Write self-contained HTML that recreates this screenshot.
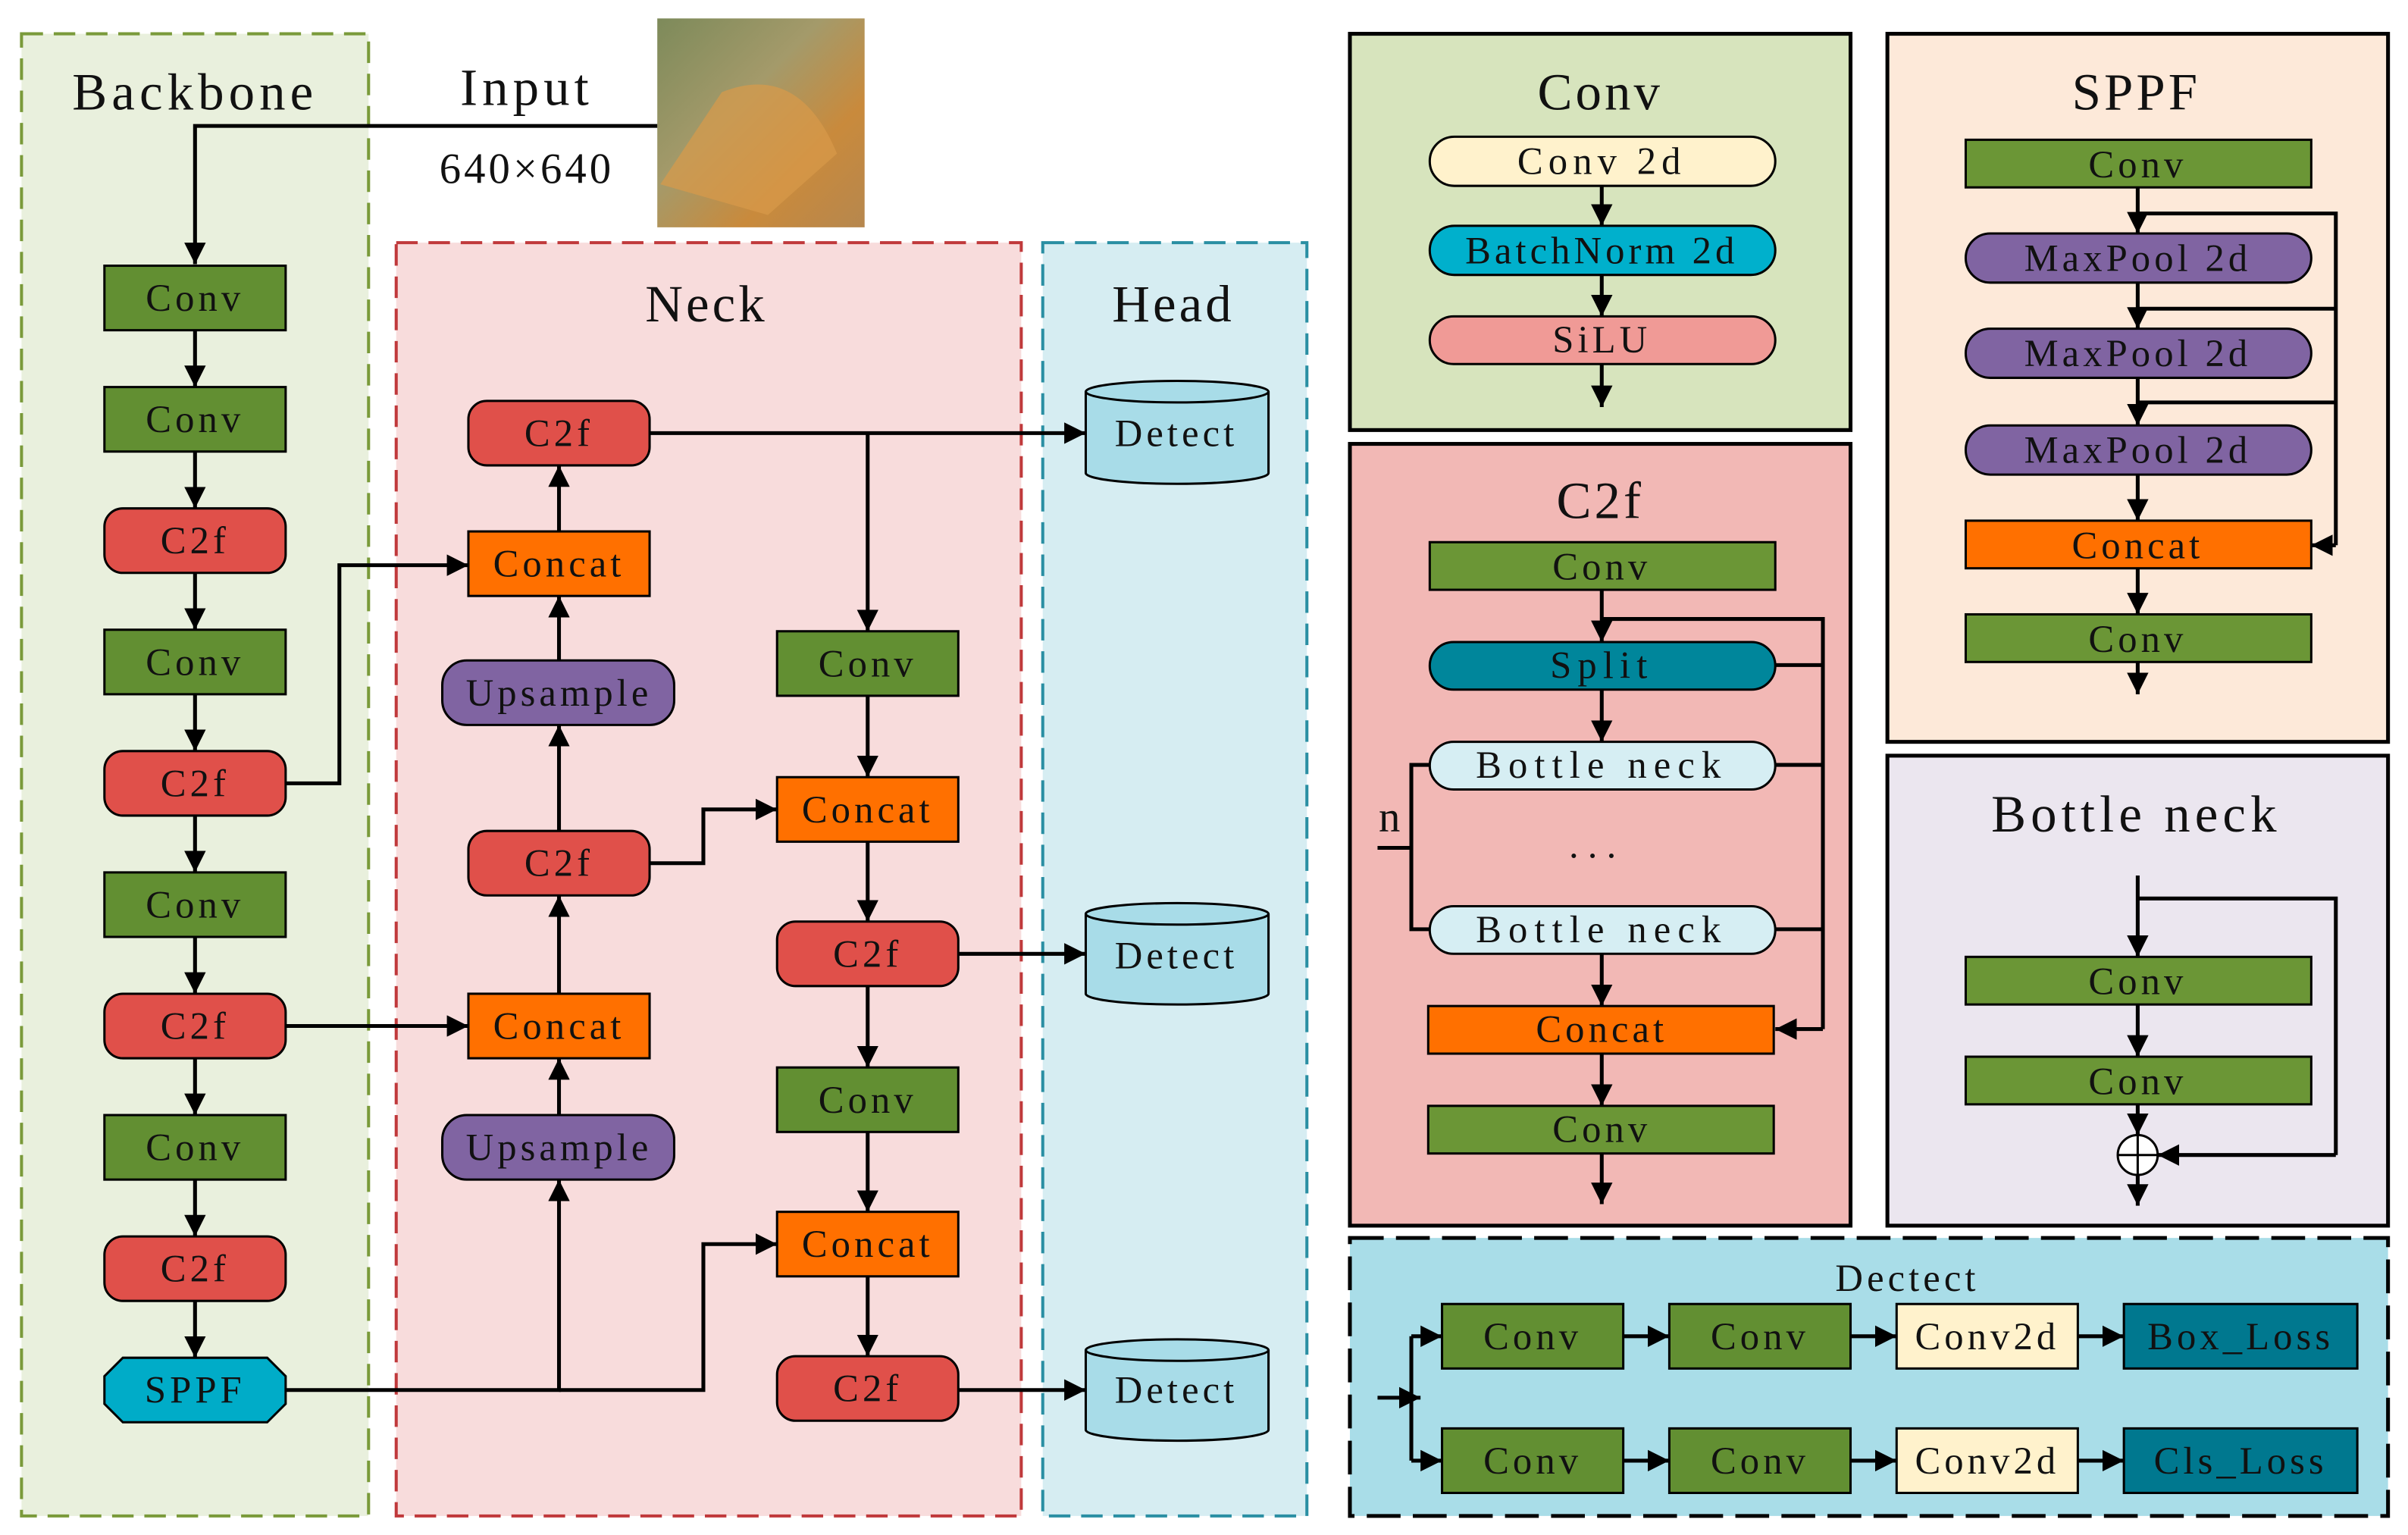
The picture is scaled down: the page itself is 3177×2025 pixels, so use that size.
<!DOCTYPE html>
<html><head><meta charset="utf-8"><style>
html,body{margin:0;padding:0;background:#fff}
svg{display:block}
text{font-family:"Liberation Serif","Noto Serif CJK SC",serif;text-anchor:middle;dominant-baseline:central;fill:#111}
.t{font-size:25px;letter-spacing:2.5px}
.h{font-size:34px;letter-spacing:2px}
</style></head><body>
<svg width="3177" height="2025" viewBox="0 0 1568 999.4" preserveAspectRatio="none" xmlns="http://www.w3.org/2000/svg">
<defs>
<marker id="b" viewBox="0 0 10 10" refX="10" refY="5" markerWidth="14" markerHeight="14" markerUnits="userSpaceOnUse" orient="auto"><path d="M0,0L10,5L0,10z" fill="#000"/></marker>
<linearGradient id="img" x1="0" y1="0" x2="1" y2="1"><stop offset="0" stop-color="#7d8a5a"/><stop offset="0.4" stop-color="#a49a6a"/><stop offset="0.7" stop-color="#c98a3c"/><stop offset="1" stop-color="#b6874e"/></linearGradient>
</defs>
<rect width="1568" height="1000" fill="#fff"/>
<rect x="14" y="22" width="226" height="965" fill="#e9f0dd" stroke="#7a9a3a" stroke-width="2" stroke-dasharray="14,7"/>
<rect x="258" y="158" width="407" height="829" fill="#f8dcdc" stroke="#c0393b" stroke-width="2" stroke-dasharray="14,7"/>
<rect x="679" y="158" width="172" height="829" fill="#d6edf2" stroke="#2a8fa3" stroke-width="2" stroke-dasharray="14,7"/>
<text x="127" y="60" class="h" style="letter-spacing:3px">Backbone</text>
<text x="460" y="198" class="h">Neck</text>
<text x="764" y="198" class="h">Head</text>
<text x="343" y="57" class="h" style="letter-spacing:3px">Input</text>
<text x="343" y="110" style="font-size:28px;letter-spacing:2px">640×640</text>
<rect x="428" y="12" width="135" height="136" fill="url(#img)"/>
<path d="M470,60 Q520,40 545,100 L500,140 L430,120z" fill="#d99a4a" opacity="0.7"/>
<g stroke="#000" stroke-width="2.5" fill="none" marker-end="url(#b)">
<path d="M428,82H127V172"/>
<path d="M127,215V252"/><path d="M127,294V331"/><path d="M127,373V410"/><path d="M127,452V489"/><path d="M127,531V568"/><path d="M127,610V647"/><path d="M127,689V726"/><path d="M127,768V805"/><path d="M127,847V884"/>
<path d="M423,282H707"/><path d="M565,282V411"/>
<path d="M186,510H221V368H305"/>
<path d="M364,346V303"/><path d="M364,430V388"/><path d="M364,541V472"/><path d="M364,647V583"/><path d="M364,726V689"/>
<path d="M186,668H305"/>
<path d="M186,905H364V768"/>
<path d="M364,905H458V810H506"/>
<path d="M423,562H458V527H506"/>
<path d="M565,453V506"/><path d="M565,548V600"/><path d="M565,642V695"/><path d="M565,737V789"/><path d="M565,831V883"/>
<path d="M624,621H707"/><path d="M624,905H707"/>
</g>
<g stroke="#000" stroke-width="1.5">
<rect x="68" y="173" width="118" height="42" fill="#628f32"/>
<rect x="68" y="252" width="118" height="42" fill="#628f32"/>
<rect x="68" y="331" width="118" height="42" rx="12" fill="#e0504a"/>
<rect x="68" y="410" width="118" height="42" fill="#628f32"/>
<rect x="68" y="489" width="118" height="42" rx="12" fill="#e0504a"/>
<rect x="68" y="568" width="118" height="42" fill="#628f32"/>
<rect x="68" y="647" width="118" height="42" rx="12" fill="#e0504a"/>
<rect x="68" y="726" width="118" height="42" fill="#628f32"/>
<rect x="68" y="805" width="118" height="42" rx="12" fill="#e0504a"/>
<path d="M80,884H174L186,896V914L174,926H80L68,914V896z" fill="#00acc8"/>
<rect x="305" y="261" width="118" height="42" rx="12" fill="#e0504a"/>
<rect x="305" y="346" width="118" height="42" fill="#ff7000"/>
<rect x="288" y="430" width="151" height="42" rx="16" fill="#8064a2"/>
<rect x="305" y="541" width="118" height="42" rx="12" fill="#e0504a"/>
<rect x="305" y="647" width="118" height="42" fill="#ff7000"/>
<rect x="288" y="726" width="151" height="42" rx="16" fill="#8064a2"/>
<rect x="506" y="411" width="118" height="42" fill="#628f32"/>
<rect x="506" y="506" width="118" height="42" fill="#ff7000"/>
<rect x="506" y="600" width="118" height="42" rx="12" fill="#e0504a"/>
<rect x="506" y="695" width="118" height="42" fill="#628f32"/>
<rect x="506" y="789" width="118" height="42" fill="#ff7000"/>
<rect x="506" y="883" width="118" height="42" rx="12" fill="#e0504a"/>
</g>
<g stroke="#000" stroke-width="1.5" fill="#a8dce8">
<path d="M707,255V308A59.5,7 0 0 0 826,308V255"/><ellipse cx="766.5" cy="255" rx="59.5" ry="7"/>
<path d="M707,595V647A59.5,7 0 0 0 826,647V595"/><ellipse cx="766.5" cy="595" rx="59.5" ry="7"/>
<path d="M707,879V931A59.5,7 0 0 0 826,931V879"/><ellipse cx="766.5" cy="879" rx="59.5" ry="7"/>
</g>
<text x="127" y="194" class="t">Conv</text><text x="127" y="273" class="t">Conv</text><text x="127" y="352" class="t">C2f</text><text x="127" y="431" class="t">Conv</text><text x="127" y="510" class="t">C2f</text><text x="127" y="589" class="t">Conv</text><text x="127" y="668" class="t">C2f</text><text x="127" y="747" class="t">Conv</text><text x="127" y="826" class="t">C2f</text><text x="127" y="905" class="t">SPPF</text>
<text x="364" y="282" class="t">C2f</text><text x="364" y="367" class="t">Concat</text><text x="364" y="451" class="t">Upsample</text><text x="364" y="562" class="t">C2f</text><text x="364" y="668" class="t">Concat</text><text x="364" y="747" class="t">Upsample</text>
<text x="565" y="432" class="t">Conv</text><text x="565" y="527" class="t">Concat</text><text x="565" y="621" class="t">C2f</text><text x="565" y="716" class="t">Conv</text><text x="565" y="810" class="t">Concat</text><text x="565" y="904" class="t">C2f</text>
<text x="766" y="282" class="t">Detect</text><text x="766" y="622" class="t">Detect</text><text x="766" y="905" class="t">Detect</text>
<rect x="879" y="22" width="326" height="258" fill="#d7e4bd" stroke="#000" stroke-width="2.5"/>
<text x="1042" y="60" class="h">Conv</text>
<g stroke="#000" stroke-width="2.5" fill="none" marker-end="url(#b)">
<path d="M1043,121V147"/><path d="M1043,179V206"/><path d="M1043,237V265"/>
</g>
<g stroke="#000" stroke-width="1.5">
<rect x="931" y="89" width="225" height="32" rx="16" fill="#fff2cc"/>
<rect x="931" y="147" width="225" height="32" rx="16" fill="#00b0cc"/>
<rect x="931" y="206" width="225" height="31" rx="15.5" fill="#f09a96"/>
</g>
<text x="1043" y="105" class="t" style="letter-spacing:3.5px">Conv 2d</text><text x="1043" y="163" class="t">BatchNorm 2d</text><text x="1043" y="221" class="t">SiLU</text>
<rect x="879" y="289" width="326" height="509" fill="#f2b8b5" stroke="#000" stroke-width="2.5"/>
<text x="1042" y="326" class="h">C2f</text>
<g stroke="#000" stroke-width="2.5" fill="none">
<path d="M1043,403H1187V670"/><path d="M1156,433H1187"/><path d="M1156,498H1187"/><path d="M1156,605H1187"/>
<path d="M931,498H919V605H931"/><path d="M897,552H919"/>
<g marker-end="url(#b)"><path d="M1043,384V418"/><path d="M1043,449V483"/><path d="M1043,621V655"/><path d="M1043,686V720"/><path d="M1043,751V784"/><path d="M1187,670H1156"/></g>
</g>
<g stroke="#000" stroke-width="1.5">
<rect x="931" y="353" width="225" height="31" fill="#6b9636"/>
<rect x="931" y="418" width="225" height="31" rx="15.5" fill="#00869b"/>
<rect x="931" y="483" width="225" height="31" rx="15.5" fill="#d6eef3"/>
<rect x="931" y="590" width="225" height="31" rx="15.5" fill="#d6eef3"/>
<rect x="930" y="655" width="225" height="31" fill="#ff7000"/>
<rect x="930" y="720" width="225" height="31" fill="#6b9636"/>
</g>
<text x="1043" y="369" class="t">Conv</text><text x="1043" y="433" class="t" style="letter-spacing:4px">Split</text><text x="1043" y="498" class="t" style="letter-spacing:4.5px">Bottle neck</text><text x="1040" y="550" class="t" style="letter-spacing:6px">...</text><text x="1043" y="605" class="t" style="letter-spacing:4.5px">Bottle neck</text><text x="1043" y="670" class="t">Concat</text><text x="1043" y="735" class="t">Conv</text>
<text x="906" y="532" class="t" style="font-size:28px">n</text>
<rect x="1229" y="22" width="326" height="461" fill="#fde9d9" stroke="#000" stroke-width="2.5"/>
<text x="1391" y="60" class="h">SPPF</text>
<g stroke="#000" stroke-width="2.5" fill="none">
<path d="M1392,139H1521V355"/><path d="M1392,201H1521"/><path d="M1392,262H1521"/>
<g marker-end="url(#b)"><path d="M1392,122V152"/><path d="M1392,184V214"/><path d="M1392,246V277"/><path d="M1392,309V339"/><path d="M1392,370V400"/><path d="M1392,431V452"/><path d="M1521,355H1505"/></g>
</g>
<g stroke="#000" stroke-width="1.5">
<rect x="1280" y="91" width="225" height="31" fill="#6b9636"/>
<rect x="1280" y="152" width="225" height="32" rx="16" fill="#8064a2"/>
<rect x="1280" y="214" width="225" height="32" rx="16" fill="#8064a2"/>
<rect x="1280" y="277" width="225" height="32" rx="16" fill="#8064a2"/>
<rect x="1280" y="339" width="225" height="31" fill="#ff7000"/>
<rect x="1280" y="400" width="225" height="31" fill="#6b9636"/>
</g>
<text x="1392" y="107" class="t">Conv</text><text x="1392" y="168" class="t">MaxPool 2d</text><text x="1392" y="230" class="t">MaxPool 2d</text><text x="1392" y="293" class="t">MaxPool 2d</text><text x="1392" y="355" class="t">Concat</text><text x="1392" y="416" class="t">Conv</text>
<rect x="1229" y="492" width="326" height="306" fill="#ebe6ef" stroke="#000" stroke-width="2.5"/>
<text x="1391" y="530" class="h" style="letter-spacing:3px">Bottle neck</text>
<g stroke="#000" stroke-width="2.5" fill="none">
<path d="M1392,585H1521V752"/>
<g marker-end="url(#b)"><path d="M1392,570V623"/><path d="M1392,654V688"/><path d="M1392,719V739"/><path d="M1392,765V785"/><path d="M1521,752H1405"/></g>
</g>
<g stroke="#000" stroke-width="1.5">
<rect x="1280" y="623" width="225" height="31" fill="#6b9636"/>
<rect x="1280" y="688" width="225" height="31" fill="#6b9636"/>
<circle cx="1392" cy="752" r="13" fill="#fff"/><path d="M1379,752H1405M1392,739V765" fill="none"/>
</g>
<text x="1392" y="639" class="t">Conv</text><text x="1392" y="704" class="t">Conv</text>
<rect x="879" y="806" width="676" height="181" fill="#a9dde8" stroke="#000" stroke-width="2.5" stroke-dasharray="22,8"/>
<text x="1242" y="832" class="t">Dectect</text>
<g stroke="#000" stroke-width="2.5" fill="none">
<path d="M919,870V951"/>
<g marker-end="url(#b)"><path d="M897,910H925"/><path d="M919,870H939"/><path d="M919,951H939"/>
<path d="M1057,870H1087"/><path d="M1205,870H1235"/><path d="M1353,870H1383"/>
<path d="M1057,951H1087"/><path d="M1205,951H1235"/><path d="M1353,951H1383"/></g>
</g>
<g stroke="#000" stroke-width="1.5">
<rect x="939" y="849" width="118" height="42" fill="#628f32"/><rect x="1087" y="849" width="118" height="42" fill="#628f32"/><rect x="1235" y="849" width="118" height="42" fill="#fff2cc"/><rect x="1383" y="849" width="152" height="42" fill="#00788f"/>
<rect x="939" y="930" width="118" height="42" fill="#628f32"/><rect x="1087" y="930" width="118" height="42" fill="#628f32"/><rect x="1235" y="930" width="118" height="42" fill="#fff2cc"/><rect x="1383" y="930" width="152" height="42" fill="#00788f"/>
</g>
<text x="998" y="870" class="t">Conv</text><text x="1146" y="870" class="t">Conv</text><text x="1294" y="870" class="t">Conv2d</text><text x="1459" y="870" class="t">Box_Loss</text>
<text x="998" y="951" class="t">Conv</text><text x="1146" y="951" class="t">Conv</text><text x="1294" y="951" class="t">Conv2d</text><text x="1459" y="951" class="t">Cls_Loss</text>
</svg>
</body></html>
